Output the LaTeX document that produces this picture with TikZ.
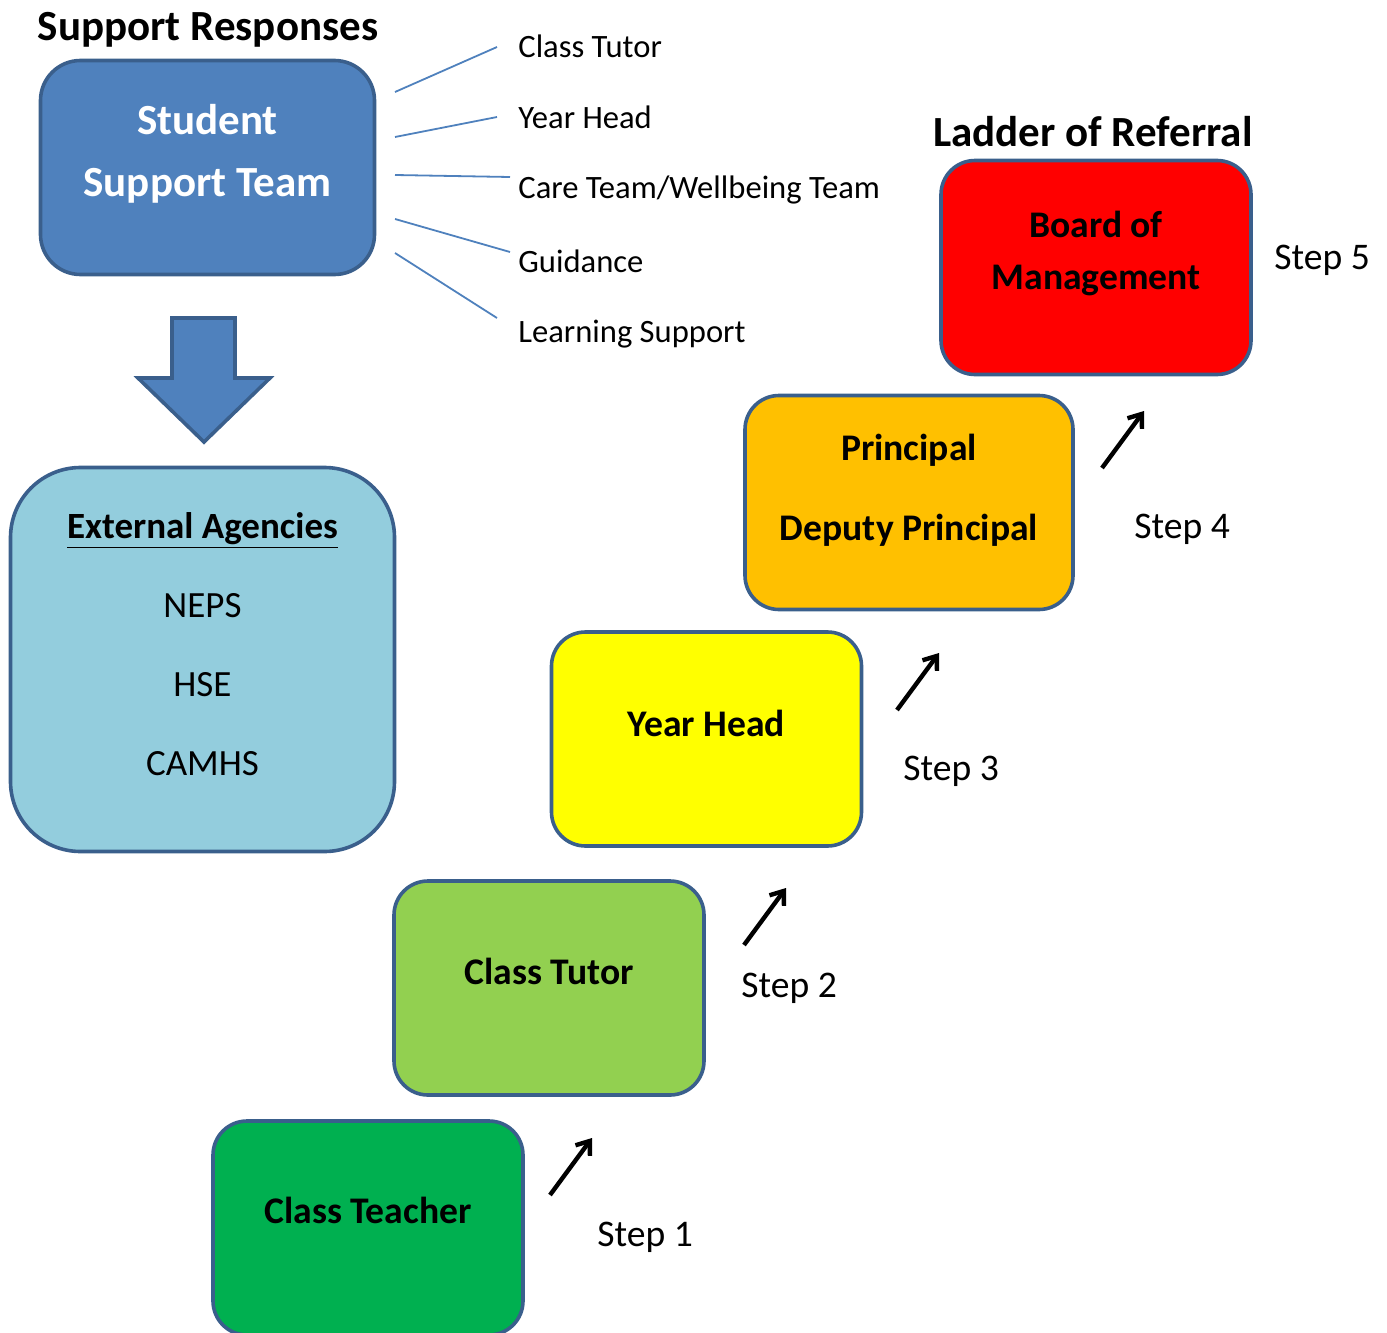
\documentclass[tikz,border=0pt]{standalone}
\usepackage{fontspec}
\setmainfont{Carlito}
\usetikzlibrary{positioning, arrows.meta}

\definecolor{sstblue}{HTML}{4F81BD}
\definecolor{edgeblue}{HTML}{3A5F8C}
\definecolor{agencyblue}{HTML}{93CDDD}
\definecolor{rungred}{HTML}{FF0000}
\definecolor{rungorange}{HTML}{FFC000}
\definecolor{rungyellow}{HTML}{FFFF00}
\definecolor{runglime}{HTML}{92D050}
\definecolor{runggreen}{HTML}{00B050}

\begin{document}
\begin{tikzpicture}[x=0.5pt, y=-0.5pt,
    heading/.style={font=\fontsize{21.5}{26}\selectfont\bfseries},
    rung/.style={draw=edgeblue, line width=1.8pt, rounded corners=17pt, minimum width=155pt, minimum height=107pt},
    rungtext/.style={font=\fontsize{18.8}{26}\selectfont\bfseries, align=center},
    steplabel/.style={font=\fontsize{18.8}{22}\selectfont, anchor=west, inner sep=0pt},
    member/.style={font=\fontsize{16.3}{19}\selectfont, anchor=west, inner sep=0pt},
    spoke/.style={draw=sstblue, line width=0.9pt},
    climb/.style={-{Straight Barb[length=6pt, width=9pt]}, line width=2.2pt}]
  \useasboundingbox (0,0) rectangle (1387,1333);

  % support responses
  \node[heading] (suptitle) at (208,30) {Support Responses};
  \node[draw=edgeblue, fill=sstblue, line width=1.8pt, rounded corners=20pt,
        minimum width=167pt, minimum height=107pt] (sst) at (207.5,167.5) {};
  \node[rungtext, text=white, font=\fontsize{21.5}{31}\selectfont\bfseries]
        (ssttext) at ([yshift=-47.5pt]sst.north) {Student\\Support Team};

  \node[member] (m1) at (518,46)  {Class Tutor};
  \node[member] (m2) at (518,117) {Year Head};
  \node[member] (m3) at (518,190) {Care Team/Wellbeing Team};
  \node[member] (m4) at (518,261) {Guidance};
  \node[member] (m5) at (518,334) {Learning Support};
  \foreach \ya/\xb/\yb [count=\i] in {92/497/47, 137/497/117, 175/510/177, 219/510/252, 253/497/318} {
    \coordinate (spoke\i a) at (395,\ya);
    \coordinate (spoke\i b) at (\xb,\yb);
    \draw[spoke] (spoke\i a) -- (spoke\i b);
  }

  % big arrow down to agencies
  \draw[draw=edgeblue, fill=sstblue, line width=1.8pt]
    (172,318) -- (235,318) -- (235,378) -- (270,378) -- (204,442)
    -- (138,378) -- (172,378) -- cycle;

  \node[draw=edgeblue, fill=agencyblue, line width=1.8pt, rounded corners=35pt,
        minimum width=192pt, minimum height=192pt] (agencies) at (202.5,659.5) {};
  \node[font=\fontsize{18.5}{39.5}\selectfont, align=center] (agencytext)
        at ([yshift=-89pt]agencies.north)
        {\textbf{\underline{External Agencies}}\\NEPS\\HSE\\CAMHS};

  % ladder of referral
  \node[heading] (laddertitle) at (1093,132) {Ladder of Referral};
  \node[rung, fill=rungred]    (board)     at (1096,267.5) {};
  \node[rung, fill=rungorange, minimum width=164pt] (principal) at (909,502.5) {};
  \node[rung, fill=rungyellow] (yearhead)  at (706.5,739) {};
  \node[rung, fill=runglime]   (tutor)     at (549,988) {};
  \node[rung, fill=runggreen]  (teacher)   at (368,1228) {};

  \node[rungtext] (boardtext) at ([yshift=-47.5pt]board.north) {Board of\\Management};
  \node[rungtext, font=\fontsize{18.8}{40}\selectfont\bfseries] (principaltext)
        at ([yshift=-48.5pt]principal.north) {Principal\\Deputy Principal};
  \node[rungtext] (yearheadtext) at ([yshift=-46.5pt]yearhead.north) {Year Head};
  \node[rungtext] (tutortext)    at ([yshift=-46pt]tutor.north) {Class Tutor};
  \node[rungtext] (teachertext)  at ([yshift=-45.5pt]teacher.north) {Class Teacher};

  \node[steplabel] (step5) at (1274,260) {Step 5};
  \foreach \ax/\ay/\lx/\ly [count=\i] in {550/1195/597/1237, 744/945/741/988, 897/710/903/771, 1102/468/1134/529} {
    \node[steplabel] (step\i) at (\lx,\ly) {Step \i};
    \coordinate (climb\i) at (\ax,\ay);
    \draw[climb] (climb\i) -- ++(42,-57);
  }
\end{tikzpicture}
\end{document}
